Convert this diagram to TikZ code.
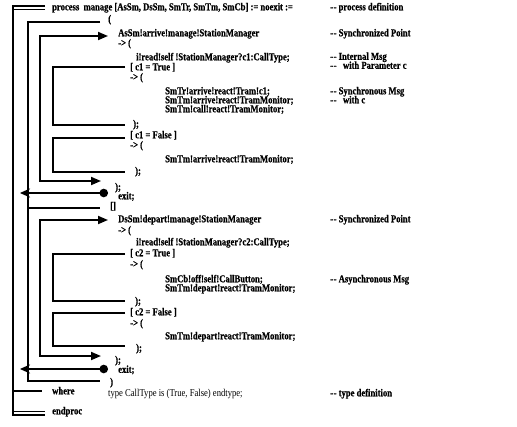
\documentclass[tikz,border=0pt]{standalone}
\usepackage{fontspec}
\setmainfont{Liberation Serif}
\newfontfamily\listfont{Liberation Serif}[FakeStretch=0.82, BoldFeatures={FakeBold=0.6}]
\usetikzlibrary{arrows.meta}

\newcommand\dashes{-\kern0.6pt-}

\tikzset{
  code/.style={anchor=west, inner sep=0pt, text height=6.5pt, text depth=2pt,
    font=\listfont\fontsize{10.5}{10.5}\selectfont\bfseries},
  plaincode/.style={code, font=\listfont\fontsize{10.5}{10.5}\selectfont},
  rail/.style={line width=1.8pt},
  boxline/.style={line width=1.2pt},
  both/.style={{Triangle[length=10pt,width=8pt]}-{Triangle[length=10pt,width=8pt]}},
  back/.style={line width=1.5pt, {Stealth[length=10pt,width=9pt]}-{Circle[length=8.5pt]}}
}

\begin{document}
\begin{tikzpicture}[x=1pt,y=-1pt]
\useasboundingbox (0,0) rectangle (517,426);

% the listing
\node[code] (process) at (52,8) {process\ \ manage [AsSm, DsSm, SmTr, SmTm, SmCb] := noexit :=};
\node[code] (opn) at (108,20) {(};
\node[code] (asIn) at (118,34) {AsSm!arrive!manage!StationManager};
\node[code] (asGo) at (118,44) {-> (};
\node[code] (rd1) at (136,58) {i!read!self !StationManager?c1:CallType;};
\node[code] (c1t) at (130,68) {[ c1 = True ]};
\node[code] (c1tGo) at (130,78) {-> (};
\node[code] (tr1) at (165,92) {SmTr!arrive!react!Tram!c1;};
\node[code] (tm1) at (165,101) {SmTm!arrive!react!TramMonitor;};
\node[code] (tm1c) at (165,110) {SmTm!call!react!TramMonitor;};
\node[code] (c1tEnd) at (133,125) {);};
\node[code] (c1f) at (130,136) {[ c1 = False ]};
\node[code] (c1fGo) at (130,146) {-> (};
\node[code] (tm1b) at (165,160) {SmTm!arrive!react!TramMonitor;};
\node[code] (c1fEnd) at (135,172) {);};
\node[code] (asEnd) at (115,188) {);};
\node[code] (asExit) at (118,197) {exit;};
\node[code] (choice) at (110,207) {[]};
\node[code] (dsIn) at (118,220) {DsSm!depart!manage!StationManager};
\node[code] (dsGo) at (118,231) {-> (};
\node[code] (rd2) at (136,243) {i!read!self !StationManager?c2:CallType;};
\node[code] (c2t) at (130,254) {[ c2 = True ]};
\node[code] (c2tGo) at (130,265) {-> (};
\node[code] (cb2) at (165,280) {SmCb!off!self!CallButton;};
\node[code] (tm2) at (165,289) {SmTm!depart!react!TramMonitor;};
\node[code] (c2tEnd) at (135,302) {);};
\node[code] (c2f) at (130,313) {[ c2 = False ]};
\node[code] (c2fGo) at (130,324) {-> (};
\node[code] (tm2b) at (165,337) {SmTm!depart!react!TramMonitor;};
\node[code] (c2fEnd) at (136,349) {);};
\node[code] (dsEnd) at (115,361) {);};
\node[code] (dsExit) at (118,370.5) {exit;};
\node[code] (cls) at (110,383) {)};
\node[code] (whereK) at (52,392) {where};
\node[plaincode] (typeDef) at (108,394) {type CallType is (True, False) endtype;};
\node[code] (endK) at (52,412) {endproc};

% comments
\node[code] (cmProc) at (330,8) {\dashes\ process definition};
\node[code] (cmSync1) at (330,34) {\dashes\ Synchronized Point};
\node[code] (cmInt) at (330,57.5) {\dashes\ Internal Msg};
\node[code] (cmInt2) at (330,66.5) {\dashes\ \ \ with Parameter c};
\node[code] (cmSyn) at (330,92) {\dashes\ Synchronous Msg};
\node[code] (cmSyn2) at (330,101) {\dashes\ \ \ with c};
\node[code] (cmSync2) at (330,220) {\dashes\ Synchronized Point};
\node[code] (cmAsyn) at (330,280) {\dashes\ Asynchronous Msg};
\node[code] (cmType) at (330,394) {\dashes\ type definition};

% process frame
\draw[rail] (45,6) -- (13,6) -- (13,415) -- (45,415);
\draw[rail] (13,9.5) -- (45,9.5);
\draw[rail] (13,411.5) -- (45,411.5);
\draw[rail] (13,391) -- (42,391);

% choice frame
\draw[rail] (100,22) -- (28,22) -- (28,381) -- (100,381);
\draw[rail] (28,208) -- (100,208);

% branches
\draw[rail,both] (108,36) -- (40,36) -- (40,181) -- (101,181);
\draw[rail,both] (108,220) -- (40,220) -- (40,356) -- (101,356);
\draw[back] (20,193) -- (108,193);
\draw[back] (20,369) -- (108,369);

% guards
\draw[boxline] (125,67) -- (53,67) -- (53,125) -- (125,125);
\draw[boxline] (125,138) -- (53,138) -- (53,172) -- (125,172);
\draw[boxline] (125,254) -- (53,254) -- (53,301) -- (125,301);
\draw[boxline] (125,313) -- (53,313) -- (53,346) -- (125,346);

\end{tikzpicture}
\end{document}
